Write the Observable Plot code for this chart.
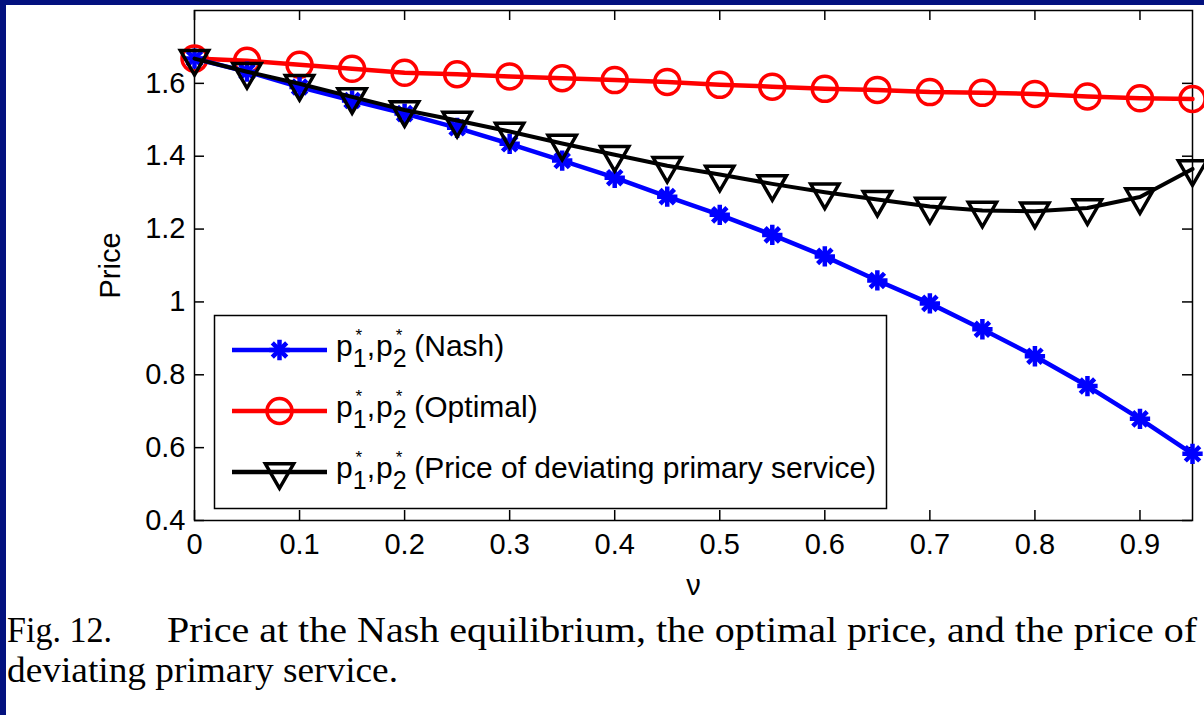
<!DOCTYPE html>
<html><head><meta charset="utf-8">
<script src="https://cdn.jsdelivr.net/npm/d3@7"></script>
<script src="https://cdn.jsdelivr.net/npm/@observablehq/plot@0.6"></script>
<style>
html,body{margin:0;padding:0;background:#03117f;width:1204px;height:715px;overflow:hidden}
#panel{position:absolute;left:6px;top:5px;width:1198px;height:710px;background:#fff}
#chart{position:absolute;left:0;top:0}
#overlay{position:absolute;left:0;top:0}
</style></head><body>
<div id="panel"></div>
<div id="chart"></div>
<svg id="overlay" width="1204" height="715"></svg>
<script>
// ---- data ----
const nu = [0,0.05,0.1,0.15,0.2,0.25,0.3,0.35,0.4,0.45,0.5,0.55,0.6,0.65,0.7,0.75,0.8,0.85,0.9,0.95];
const nash = [1.668,1.632,1.590,1.553,1.517,1.478,1.434,1.388,1.341,1.289,1.239,1.184,1.125,1.059,0.996,0.925,0.851,0.769,0.679,0.583];
const optimal = [1.668,1.662,1.651,1.640,1.629,1.625,1.619,1.614,1.609,1.604,1.596,1.591,1.585,1.582,1.576,1.574,1.571,1.564,1.559,1.557];
const deviating = [1.668,1.632,1.599,1.563,1.527,1.498,1.468,1.435,1.404,1.374,1.350,1.324,1.301,1.281,1.262,1.251,1.249,1.258,1.288,1.365];
const xTicks = [0,0.1,0.2,0.3,0.4,0.5,0.6,0.7,0.8,0.9];
const yTicks = [0.4,0.6,0.8,1,1.2,1.4,1.6];
const seriesNames = ["Nash","Optimal","Price of deviating primary service"];
const seriesColors = ["#0000ff","#ff0000","#000000"];
const xLabel = "ν";
const yLabel = "Price";
const captionHead = "Fig. 12.";
const captionLine1 = "Price at the Nash equilibrium, the optimal price, and the price of";
const captionLine2 = "deviating primary service.";

// ---- chart ----
const W = 1204, H = 600, mL = 194, mR = 12, mT = 10, mB = 80;
const iw = W - mL - mR, ih = H - mT - mB;
const rows = nu.map((v, i) => ({nu: v, nash: nash[i], optimal: optimal[i], deviating: deviating[i]}));
const font = "'Liberation Sans', Arial, sans-serif";
const TL = 10;

const plot = Plot.plot({
  width: W, height: H, marginLeft: mL, marginRight: mR, marginTop: mT, marginBottom: mB,
  style: {background: "transparent", fontFamily: font, color: "#000", overflow: "visible"},
  x: {domain: [0, 0.95]},
  y: {domain: [0.4, 1.8]},
  marks: [
    Plot.axisX(xTicks, {tickSize: 0, tickPadding: 13, fontSize: 29, tickFormat: d => String(d),
      label: xLabel, labelAnchor: "center", labelArrow: "none", labelOffset: 74}),
    Plot.axisY(yTicks, {tickSize: 0, tickPadding: 9, fontSize: 29, tickFormat: d => String(d),
      label: yLabel, labelAnchor: "center", labelArrow: "none", labelOffset: 95}),
    Plot.tickX(xTicks, {x: d => d, insetTop: ih - TL, stroke: "#000", strokeWidth: 1.5}),
    Plot.tickX(xTicks, {x: d => d, insetBottom: ih - TL, stroke: "#000", strokeWidth: 1.5}),
    Plot.tickY(yTicks, {y: d => d, insetRight: iw - TL, stroke: "#000", strokeWidth: 1.5}),
    Plot.tickY(yTicks, {y: d => d, insetLeft: iw - TL, stroke: "#000", strokeWidth: 1.5}),
    Plot.frame({stroke: "#000", strokeWidth: 1.5}),
    Plot.line(rows, {x: "nu", y: "optimal", stroke: seriesColors[1], strokeWidth: 4.5}),
    Plot.dot(rows, {x: "nu", y: "optimal", symbol: "circle", r: 12.5, stroke: seriesColors[1], fill: "none", strokeWidth: 3.5}),
    Plot.line(rows, {x: "nu", y: "nash", stroke: seriesColors[0], strokeWidth: 4.5}),
    Plot.dot(rows, {x: "nu", y: "nash", symbol: "plus", r: 6.6, stroke: seriesColors[0], fill: "none", strokeWidth: 4.5}),
    Plot.dot(rows, {x: "nu", y: "nash", symbol: "times", r: 6.6, stroke: seriesColors[0], fill: "none", strokeWidth: 4.5}),
    Plot.line(rows, {x: "nu", y: "deviating", stroke: seriesColors[2], strokeWidth: 4}),
    Plot.dot(rows, {x: "nu", y: "deviating", symbol: "triangle", rotate: 180, r: 10.5, stroke: seriesColors[2], fill: "none", strokeWidth: 3.5})
  ]
});
document.getElementById("chart").appendChild(plot);

// ---- legend & caption overlay ----
const ov = d3.select("#overlay");
const lg = ov.append("g");
lg.append("rect").attr("x", 214.5).attr("y", 315.5).attr("width", 672).attr("height", 193)
  .attr("fill", "#fff").attr("stroke", "#000").attr("stroke-width", 1.5);
const rowY = [350, 411, 472];
const syms = [
  [[d3.symbolPlus, 137], [d3.symbolTimes, 137]],
  [[d3.symbolCircle, Math.PI * 12.5 * 12.5]],
  [[d3.symbolTriangle, Math.PI * 10.5 * 10.5]]
];
seriesNames.forEach((name, i) => {
  const cy = rowY[i];
  lg.append("line").attr("x1", 232).attr("x2", 327).attr("y1", cy).attr("y2", cy)
    .attr("stroke", seriesColors[i]).attr("stroke-width", 4.5);
  syms[i].forEach(([s, size]) => {
    lg.append("path").attr("d", d3.symbol(s, size)())
      .attr("transform", `translate(279.5,${cy})` + (i === 2 ? " rotate(180)" : ""))
      .attr("fill", "none").attr("stroke", seriesColors[i]).attr("stroke-width", i === 0 ? 4.5 : 3.5);
  });
  const t = lg.append("text").attr("x", 336).attr("y", cy + 6).attr("font-family", font)
    .attr("font-size", 30).attr("fill", "#000");
  [1, 2].forEach((k, j) => {
    t.append("tspan").attr("dx", j ? 1 : 0).text("p");
    t.append("tspan").attr("font-size", 25).attr("dx", 0).attr("dy", 11).text(String(k));
    t.append("tspan").attr("font-size", 17).attr("dx", -11).attr("dy", -26).text("*");
    t.append("tspan").attr("dx", j ? 12 : 4.5).attr("dy", 15).text(j === 0 ? "," : "(" + name + ")");
  });
});

const cap = ov.append("g").attr("font-family", "'Liberation Serif', 'Times New Roman', serif")
  .attr("font-size", 36).attr("fill", "#000");
cap.append("text").attr("x", 7).attr("y", 642).attr("textLength", 105).attr("lengthAdjust", "spacingAndGlyphs").text(captionHead);
cap.append("text").attr("x", 167).attr("y", 642).attr("textLength", 1030).attr("lengthAdjust", "spacingAndGlyphs").text(captionLine1);
cap.append("text").attr("x", 7).attr("y", 682).attr("textLength", 391).attr("lengthAdjust", "spacingAndGlyphs").text(captionLine2);
</script>
</body></html>
